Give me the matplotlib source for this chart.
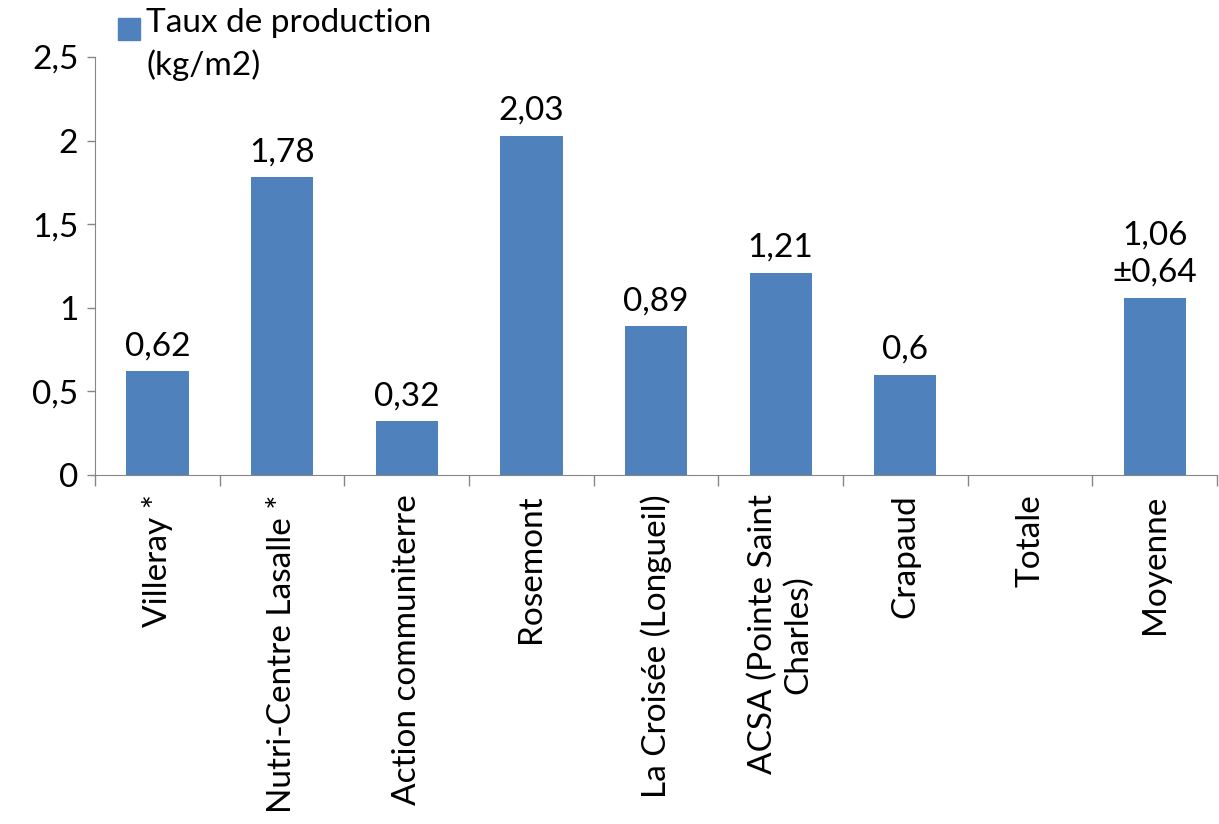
import matplotlib.pyplot as plt
import numpy as np
from matplotlib.patches import Rectangle

plt.rcParams['font.family'] = ['Lato', 'DejaVu Sans']

categories = ['Villeray *', 'Nutri-Centre Lasalle *', 'Action communiterre', 'Rosemont',
              'La Croisée (Longueil)', 'ACSA (Pointe Saint\nCharles)', 'Crapaud', 'Totale', 'Moyenne']
values = [0.62, 1.78, 0.32, 2.03, 0.89, 1.21, 0.6, np.nan, 1.06]
value_labels = ['0,62', '1,78', '0,32', '2,03', '0,89', '1,21', '0,6', '', '1,06\n±0,64']
legend_label = 'Taux de production\n(kg/m2)'

fs = 24
W, H = 1219, 824
blue = '#4F81BD'

fig = plt.figure(figsize=(W / 100, H / 100), dpi=100)
ax = fig.add_axes([95 / W, 1 - 475 / H, 1122 / W, 418 / H])

x = np.arange(len(categories))
heights = [0 if np.isnan(v) else v for v in values]
ax.bar(x, heights, width=0.5, color=blue)

for i, (h, lab) in enumerate(zip(heights, value_labels)):
    if lab:
        ax.text(i, h + 0.06, lab, ha='center', va='bottom', fontsize=fs, linespacing=1.3)

ax.set_xlim(-0.5, len(categories) - 0.5)
ax.set_ylim(0, 2.5)
ax.set_yticks([0, 0.5, 1, 1.5, 2, 2.5])
ax.set_yticklabels(['0', '0,5', '1', '1,5', '2', '2,5'], fontsize=fs)
ax.tick_params(axis='y', direction='out', length=6, width=1, color='#868686', pad=6)

ax.set_xticks(x)
ax.set_xticklabels(categories, rotation=90, fontsize=fs, va='top', ha='center', linespacing=1.2)
ax.set_xticks(np.arange(-0.5, len(categories)), minor=True)
ax.tick_params(axis='x', which='major', length=0, pad=14)
ax.tick_params(axis='x', which='minor', direction='out', length=8, width=1, color='#868686')

for s in ['top', 'right']:
    ax.spines[s].set_visible(False)
for s in ['left', 'bottom']:
    ax.spines[s].set_color('#868686')

# legend drawn by hand so the marker sits beside the first line
fig.patches.append(Rectangle((118 / W, 1 - 40 / H), 22 / W, 22 / H,
                             transform=fig.transFigure, color=blue))
fig.text(146 / W, 1 - 8 / H, legend_label, ha='left', va='top', fontsize=fs, linespacing=1.45)

fig.savefig('out.png', dpi=100)
